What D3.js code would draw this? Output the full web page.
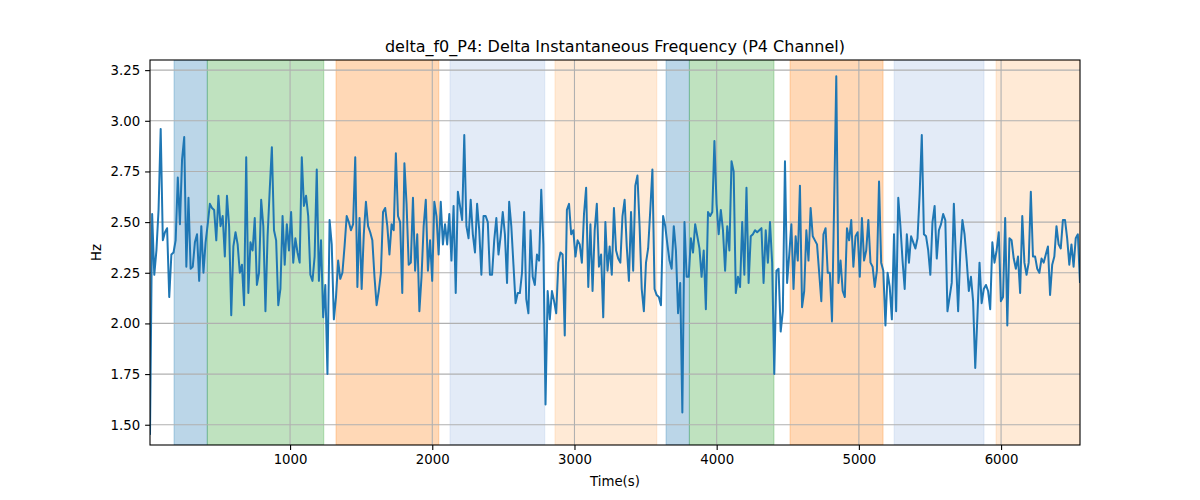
<!DOCTYPE html>
<html>
<head>
<meta charset="utf-8">
<script src="https://cdn.jsdelivr.net/npm/d3@7"></script>
<style>
  html, body { margin: 0; padding: 0; background: #fff; }
  svg { display: block; font-family: "DejaVu Sans", sans-serif; }
</style>
</head>
<body>
<svg id="chart" width="1200" height="500"></svg>
<script>
// ---- data ----
const title = "delta_f0_P4: Delta Instantaneous Frequency (P4 Channel)";
const timeStart = 15;
const timeEnd = 6555;
const hz = [
  1.45,2.54,2.24,2.36,2.56,2.96,2.41,2.45,2.47,2.13,2.34,2.35,2.41,2.72,2.49,2.81,2.92,2.28,2.62,2.27,2.28,2.40,2.44,2.21,2.48,2.25,2.40,2.49,2.59,2.57,2.56,2.41,2.63,2.48,2.53,2.33,2.63,2.48,2.04,2.38,2.45,2.39,2.25,2.29,2.09,2.82,2.15,2.40,2.36,2.52,2.19,2.25,2.61,2.48,2.06,2.43,2.66,2.87,2.46,2.41,2.09,2.17,2.53,2.29,2.49,2.36,2.55,2.30,2.42,2.35,2.30,2.82,2.58,
  2.63,2.53,2.24,2.21,2.33,2.76,2.21,2.41,2.03,2.19,1.75,2.51,2.39,2.02,2.13,2.31,2.22,2.25,2.38,2.53,2.50,2.46,2.49,2.82,2.18,2.52,2.17,2.44,2.60,2.48,2.45,2.41,2.23,2.09,2.16,2.25,2.55,2.57,2.48,2.34,2.49,2.46,2.84,2.53,2.50,2.15,2.79,2.59,2.29,2.30,2.62,2.26,2.44,2.06,2.23,2.48,2.61,2.26,2.41,2.21,2.60,2.53,2.34,2.60,2.39,2.49,2.39,2.54,2.31,2.58,2.15,2.65,2.58,
  2.51,2.93,2.48,2.42,2.61,2.44,2.35,2.59,2.46,2.24,2.53,2.53,2.50,2.24,2.24,2.41,2.52,2.34,2.43,2.55,2.44,2.20,2.60,2.48,2.29,2.10,2.15,2.15,2.25,2.55,2.12,2.05,2.46,2.23,2.19,2.34,2.31,2.66,2.39,1.60,2.16,2.02,2.16,2.11,2.05,2.30,2.35,2.34,1.94,2.56,2.59,2.44,2.46,2.33,2.41,2.39,2.30,2.54,2.67,2.18,2.49,2.16,2.46,2.59,2.28,2.34,2.03,2.50,2.26,2.38,2.24,2.57,
  2.36,2.32,2.30,2.53,2.61,2.38,2.21,2.55,2.26,2.68,2.73,2.48,2.17,2.06,2.30,2.37,2.56,2.76,2.17,2.14,2.13,2.09,2.53,2.48,2.39,2.31,2.27,2.48,2.36,2.05,2.20,1.56,2.50,2.23,2.23,2.42,2.35,2.49,2.43,2.37,2.23,2.36,2.07,2.55,2.53,2.55,2.90,2.59,2.44,2.56,2.46,2.26,2.48,2.36,2.80,2.75,2.15,2.23,2.18,2.50,2.24,2.67,2.20,2.43,2.44,2.46,2.45,2.46,2.47,2.20,2.46,2.30,2.50,
  2.30,1.75,2.26,2.27,1.96,2.06,2.80,2.20,2.34,2.49,2.17,2.43,2.31,2.68,2.08,2.16,2.46,2.31,2.57,2.43,2.41,2.39,2.25,2.11,2.44,2.47,2.25,2.25,2.01,2.59,3.22,2.20,2.31,2.16,2.13,2.47,2.41,2.51,2.28,2.43,2.45,2.23,2.52,2.31,2.36,2.51,2.30,2.28,2.18,2.26,2.70,2.30,2.26,1.99,2.25,2.18,2.02,2.44,2.06,2.62,2.48,2.31,2.17,2.44,2.30,2.43,2.40,2.37,2.42,2.64,2.93,2.44,
  2.43,2.36,2.24,2.50,2.58,2.32,2.46,2.49,2.54,2.51,2.06,2.13,2.20,2.59,2.31,2.06,2.35,2.51,2.44,2.31,2.16,2.23,2.11,1.78,2.03,2.30,2.10,2.17,2.19,2.16,2.07,2.40,2.30,2.36,2.45,2.11,2.13,2.52,1.99,2.42,2.41,2.32,2.27,2.33,2.15,2.53,2.30,2.24,2.30,2.65,2.33,2.33,2.27,2.25,2.32,2.30,2.34,2.38,2.14,2.29,2.33,2.48,2.39,2.37,2.51,2.51,2.42,2.29,2.39,2.28,2.42,2.44,2.20
];
const bandStart = [184, 418, 1323, 2125, 2863, 3644, 3808, 4516, 5248, 5965];
const bandEnd   = [418, 1237, 2046, 2791, 3579, 3808, 4403, 5170, 5880, 6555];
const bandKind  = ["blue", "green", "orange", "lightblue", "lightorange", "blue", "green", "orange", "lightblue", "lightorange"];
const xTicks = [1000, 2000, 3000, 4000, 5000, 6000];
const yTicks = [1.50, 1.75, 2.00, 2.25, 2.50, 2.75, 3.00, 3.25];

// ---- styles ----
const bandColors = {
  blue: ["#1f77b4", 0.3],
  green: ["#2ca02c", 0.3],
  orange: ["#ff7f0e", 0.3],
  lightblue: ["#aec7e8", 0.35],
  lightorange: ["#ffbb78", 0.3]
};

const svg = d3.select("#chart");
const m = { left: 150, right: 1080, top: 60, bottom: 445 };
const x = d3.scaleLinear().domain([timeStart, timeEnd]).range([m.left, m.right]);
const y = d3.scaleLinear().domain([1.40, 3.30]).range([m.bottom, m.top]);

const n = hz.length;
const times = hz.map((_, i) => timeStart + i * (timeEnd - timeStart) / (n - 1));
const data = hz.map((v, i) => ({ t: times[i], v }));

svg.append("defs").append("clipPath").attr("id", "clip")
  .append("rect").attr("x", m.left).attr("y", m.top)
  .attr("width", m.right - m.left).attr("height", m.bottom - m.top);

// bands
const bands = bandStart.map((s, i) => ({ s, e: bandEnd[i], k: bandKind[i] }));
svg.append("g").attr("clip-path", "url(#clip)").selectAll("rect").data(bands).join("rect")
  .attr("x", d => x(d.s)).attr("y", m.top)
  .attr("width", d => x(d.e) - x(d.s)).attr("height", m.bottom - m.top)
  .attr("fill", d => bandColors[d.k][0]).attr("fill-opacity", d => bandColors[d.k][1])
  .attr("stroke", d => bandColors[d.k][0]).attr("stroke-opacity", d => bandColors[d.k][1])
  .attr("stroke-width", 1);

// grid
const grid = svg.append("g");
grid.selectAll("line.gx").data(xTicks).join("line").attr("class", "gx")
  .attr("x1", d => x(d)).attr("x2", d => x(d)).attr("y1", m.top).attr("y2", m.bottom)
  .attr("stroke", "#b0b0b0").attr("stroke-width", 1.1);
grid.selectAll("line.gy").data(yTicks).join("line").attr("class", "gy")
  .attr("y1", d => y(d)).attr("y2", d => y(d)).attr("x1", m.left).attr("x2", m.right)
  .attr("stroke", "#b0b0b0").attr("stroke-width", 1.1);

// line
const line = d3.line().x(d => x(d.t)).y(d => y(d.v));
svg.append("path").datum(data).attr("clip-path", "url(#clip)")
  .attr("d", line).attr("fill", "none")
  .attr("stroke", "#1f77b4").attr("stroke-width", 2).attr("stroke-linejoin", "round");

// axes
const xAxis = d3.axisBottom(x).tickValues(xTicks).tickFormat(d3.format("d")).tickSize(4.9).tickPadding(4.9);
const yAxis = d3.axisLeft(y).tickValues(yTicks).tickFormat(d3.format(".2f")).tickSize(4.9).tickPadding(4.9);
const gx = svg.append("g").attr("transform", `translate(0,${m.bottom})`).call(xAxis);
const gy = svg.append("g").attr("transform", `translate(${m.left},0)`).call(yAxis);
[gx, gy].forEach(g => {
  g.select(".domain").remove();
  g.selectAll(".tick line").attr("stroke", "#000").attr("stroke-width", 1.1);
  g.selectAll(".tick text").attr("fill", "#000").style("font-size", "13.3px").style("font-family", "DejaVu Sans");
});

// frame
svg.append("rect").attr("x", m.left).attr("y", m.top)
  .attr("width", m.right - m.left).attr("height", m.bottom - m.top)
  .attr("fill", "none").attr("stroke", "#000").attr("stroke-width", 1.1);

// labels
svg.append("text").attr("x", (m.left + m.right) / 2).attr("y", 52)
  .attr("text-anchor", "middle").style("font-size", "16px").text(title);
svg.append("text").attr("x", (m.left + m.right) / 2).attr("y", 486)
  .attr("text-anchor", "middle").style("font-size", "13.3px").text("Time(s)");
svg.append("text").attr("transform", `translate(101,${(m.top + m.bottom) / 2}) rotate(-90)`)
  .attr("text-anchor", "middle").style("font-size", "13.3px").text("Hz");
</script>
</body>
</html>
